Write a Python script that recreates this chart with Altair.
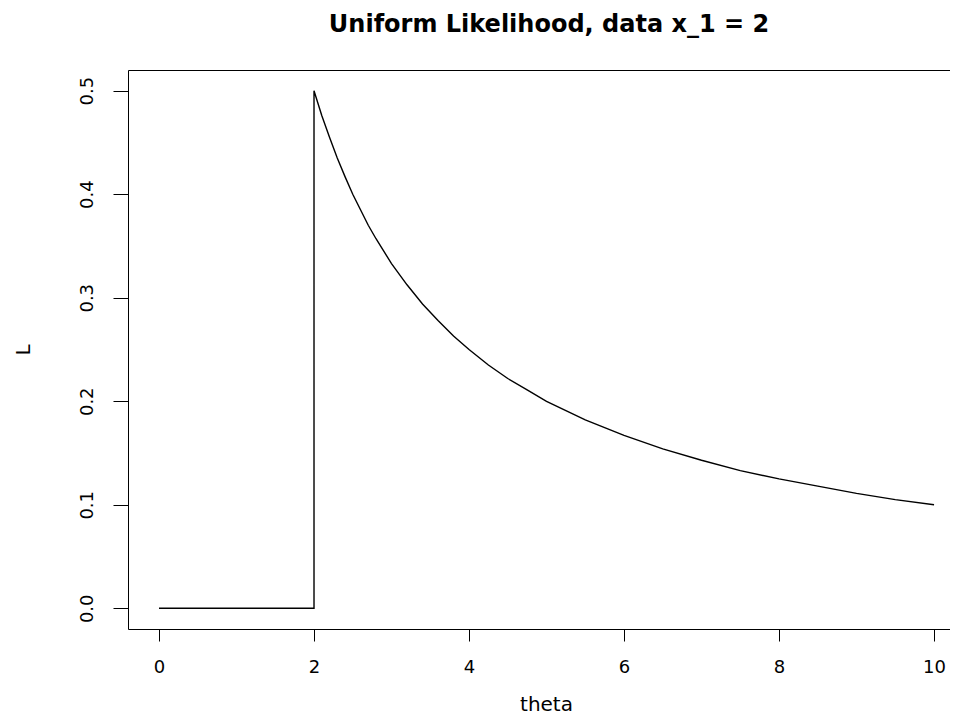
import altair as alt
import pandas as pd

# values
theta = [0, 2, 2, 2.1, 2.2, 2.3, 2.4, 2.5, 2.6, 2.7, 2.8, 2.9, 3.0, 3.2, 3.4, 3.6, 3.8,
         4.0, 4.25, 4.5, 4.75, 5.0, 5.5, 6.0, 6.5, 7.0, 7.5, 8.0, 8.5, 9.0, 9.5, 10.0]
L = [0, 0, 0.5, 0.476, 0.455, 0.435, 0.417, 0.4, 0.385, 0.370, 0.357, 0.345, 0.333,
     0.3125, 0.294, 0.278, 0.263, 0.25, 0.235, 0.222, 0.211, 0.2, 0.182, 0.167, 0.154,
     0.143, 0.133, 0.125, 0.118, 0.111, 0.105, 0.1]
x_ticks = [0, 2, 4, 6, 8, 10]
y_ticks = [0.0, 0.1, 0.2, 0.3, 0.4, 0.5]

df = pd.DataFrame({"theta": theta, "L": L, "i": list(range(len(theta)))})

FONT = "DejaVu Sans"
xscale = alt.Scale(domain=[-0.4, 10.206], nice=False, zero=False)
yscale = alt.Scale(domain=[-0.02, 0.52], nice=False, zero=False)

line = alt.Chart(df).mark_line(color="black", strokeWidth=1.4).encode(
    x=alt.X("theta:Q", scale=xscale, axis=alt.Axis(
        values=x_ticks, format="d", tickSize=12, tickColor="black", tickWidth=1,
        domainColor="black", domainWidth=1, grid=False,
        labelFont=FONT, labelFontSize=18, labelColor="black",
        labelPadding=31, labelBaseline="alphabetic", labelFlush=False,
        title="theta", titleFont=FONT, titleFontSize=20, titleFontWeight="normal",
        titleColor="black", titleX=418, titleY=81, titleBaseline="alphabetic",
        titleAlign="center")),
    y=alt.Y("L:Q", scale=yscale, axis=alt.Axis(
        values=y_ticks, format=".1f", tickSize=15, tickColor="black", tickWidth=1,
        domainColor="black", domainWidth=1, grid=False,
        labelFont=FONT, labelFontSize=18, labelColor="black",
        labelAngle=270, labelAlign="center", labelBaseline="alphabetic",
        labelPadding=21, labelFlush=False,
        title="L", titleFont=FONT, titleFontSize=20, titleFontWeight="normal",
        titleColor="black", titleAngle=270, titleX=-99, titleY=279.5,
        titleBaseline="alphabetic", titleAlign="center")),
    order="i:Q",
)

top = alt.Chart(df).mark_line(opacity=0).encode(
    x=alt.X("theta:Q", scale=xscale, axis=alt.Axis(
        orient="top", ticks=False, labels=False, grid=False, title=None,
        domainColor="black", domainWidth=1)),
    y=alt.Y("L:Q", scale=yscale),
)

chart = alt.layer(line, top).resolve_axis(x="independent").properties(
    width=822, height=559,
    autosize=alt.AutoSizeParams(type="none"),
    padding={"left": 120, "top": 62, "right": 0, "bottom": 86},
    background="white",
    title=alt.TitleParams("Uniform Likelihood, data x_1 = 2", font=FONT, fontSize=24,
                          fontWeight="bold", anchor="middle", baseline="alphabetic",
                          offset=37, dx=10, dy=23, color="black"),
).configure_view(stroke=None)

chart.save("out.html", embed_options={"renderer": "svg", "actions": False})
